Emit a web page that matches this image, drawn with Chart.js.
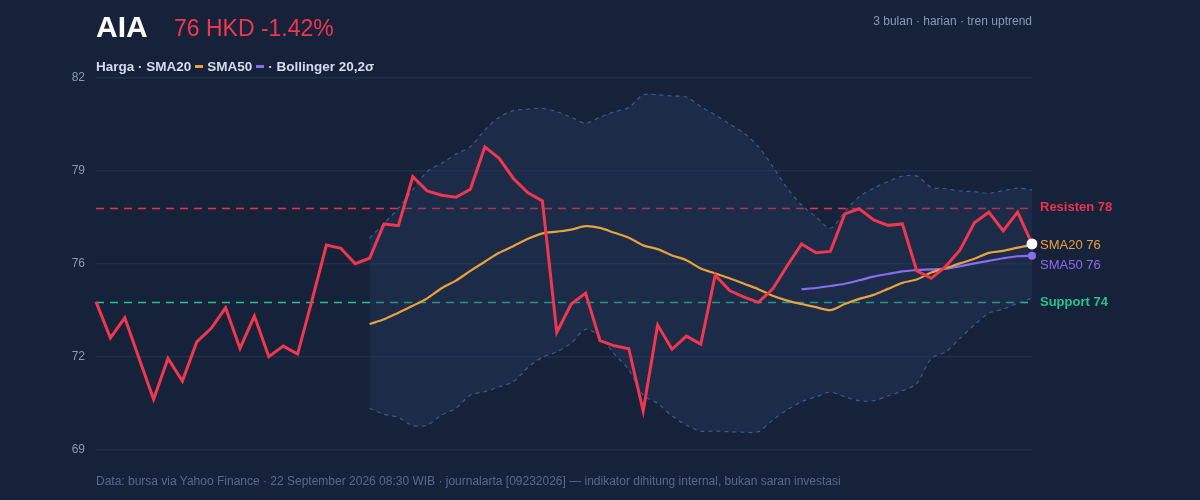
<!DOCTYPE html>
<html>
<head>
<meta charset="utf-8">
<script src="https://cdn.jsdelivr.net/npm/chart.js@4.4.1/dist/chart.umd.min.js"></script>
<style>
  html, body { margin: 0; padding: 0; background: #16223a; }
  body { width: 1200px; height: 500px; position: relative; overflow: hidden; font-family: "Liberation Sans", Arial, Helvetica, sans-serif; }
  #c { position: absolute; left: 0; top: 0; }
  .abs { position: absolute; white-space: nowrap; }
  #ttl { left: 96px; top: 10px; font-size: 30px; font-weight: bold; color: #ffffff; }
  #px { left: 174px; top: 15px; font-size: 23px; color: #f0374f; }
  #sub { right: 168px; top: 14px; font-size: 12px; color: #8a9ab4; }
  #leg { left: 96px; top: 59px; font-size: 13.5px; font-weight: bold; color: #d3ddec; }
  #leg .sw { display: inline-block; width: 8px; height: 3px; vertical-align: middle; margin: 0 4px 2px 4px; }
  #foot { left: 96px; top: 474px; font-size: 12px; color: #58698a; }
</style>
</head>
<body>
<canvas id="c" width="1200" height="500"></canvas>
<div class="abs" id="ttl">AIA</div>
<div class="abs" id="px">76 HKD -1.42%</div>
<div class="abs" id="sub">3 bulan · harian · tren uptrend</div>
<div class="abs" id="leg">Harga · SMA20<span class="sw" style="background:#e9a23b"></span>SMA50<span class="sw" style="background:#8b6cf0"></span>· Bollinger 20,2σ</div>
<div class="abs" id="foot">Data: bursa via Yahoo Finance · 22 September 2026 08:30 WIB · journalarta [09232026] — indikator dihitung internal, bukan saran investasi</div>
<script>
const categories = [
  "23/06","24/06","25/06","26/06","29/06","30/06",
  "01/07","02/07","03/07","06/07","07/07","08/07","09/07","10/07","13/07","14/07","15/07","16/07","17/07","20/07","21/07","22/07","23/07","24/07","27/07","28/07","29/07","30/07","31/07",
  "03/08","04/08","05/08","06/08","07/08","10/08","11/08","12/08","13/08","14/08","17/08","18/08","19/08","20/08","21/08","24/08","25/08","26/08","27/08","28/08","31/08",
  "01/09","02/09","03/09","04/09","07/09","08/09","09/09","10/09","11/09","14/09","15/09","16/09","17/09","18/09","21/09","22/09"
];

const price = [
  74.17, 72.91, 73.61, 72.18, 70.76, 72.19, 71.40, 72.77, 73.24, 73.96,
  72.54, 73.67, 72.25, 72.62, 72.34, 74.22, 76.15, 76.04, 75.50, 75.69,
  76.89, 76.83, 78.54, 78.04, 77.89, 77.82, 78.10, 79.58, 79.18, 78.47,
  77.98, 77.69, 73.10, 74.09, 74.47, 72.81, 72.63, 72.53, 70.35, 73.36,
  72.51, 72.97, 72.69, 75.10, 74.56, 74.33, 74.15, 74.62, 75.43, 76.19,
  75.88, 75.93, 77.24, 77.42, 77.03, 76.84, 76.89, 75.25, 74.99, 75.40,
  75.98, 76.93, 77.30, 76.65, 77.30, 76.19
];

const sma20 = [
  null, null, null, null, null, null, null, null, null, null,
  null, null, null, null, null, null, null, null, null, 73.39,
  73.56, 73.79, 74.03, 74.29, 74.64, 74.91, 75.25, 75.57, 75.88, 76.12,
  76.37, 76.56, 76.62, 76.69, 76.81, 76.75, 76.58, 76.41, 76.14, 76.01,
  75.79, 75.62, 75.33, 75.16, 74.99, 74.80, 74.61, 74.38, 74.21, 74.09,
  73.98, 73.88, 74.09, 74.27, 74.41, 74.62, 74.83, 74.95, 75.19, 75.34,
  75.51, 75.67, 75.88, 75.95, 76.06, 76.15
];

const sma50 = [
  null, null, null, null, null, null, null, null, null, null,
  null, null, null, null, null, null, null, null, null, null,
  null, null, null, null, null, null, null, null, null, null,
  null, null, null, null, null, null, null, null, null, null,
  null, null, null, null, null, null, null, null, null, 74.61,
  74.65, 74.72, 74.80, 74.92, 75.05, 75.14, 75.23, 75.28, 75.30, 75.33,
  75.41, 75.51, 75.60, 75.69, 75.76, 75.78
];

const bbUpper = [
  null, null, null, null, null, null, null, null, null, null,
  null, null, null, null, null, null, null, null, null, 76.39,
  76.91, 77.44, 78.08, 78.72, 79.01, 79.33, 79.59, 80.17, 80.62, 80.85,
  80.90, 80.93, 80.81, 80.62, 80.41, 80.62, 80.81, 80.96, 81.40, 81.40,
  81.36, 81.32, 80.99, 80.70, 80.38, 80.06, 79.59, 78.89, 78.14, 77.55,
  77.14, 76.74, 77.32, 77.84, 78.14, 78.37, 78.56, 78.56, 78.17, 78.12,
  78.04, 78.02, 77.96, 78.05, 78.14, 78.08
];

const bbLower = [
  null, null, null, null, null, null, null, null, null, null,
  null, null, null, null, null, null, null, null, null, 70.45,
  70.24, 70.13, 69.84, 69.86, 70.21, 70.45, 70.91, 71.03, 71.20, 71.38,
  71.88, 72.23, 72.42, 72.72, 73.21, 72.95, 72.34, 71.79, 70.91, 70.62,
  70.18, 69.86, 69.65, 69.65, 69.63, 69.61, 69.63, 70.04, 70.39, 70.68,
  70.85, 71.01, 70.85, 70.71, 70.71, 70.88, 71.06, 71.32, 72.19, 72.42,
  72.89, 73.36, 73.77, 73.91, 74.12, 74.29
];

const yTicks = [69, 72.25, 75.5, 78.75, 82];
const yMin = 69, yMax = 82;
const levelValues = [77.46, 74.16];
const levelLabels = ["Resisten 78", "Support 74"];
const maLabels = ["SMA20 76", "SMA50 76"];

const C = {
  price: "#f0374f", sma20: "#e9a23b", sma50: "#8b6cf0",
  res: "#e8334f", sup: "#22c38f", band: "#3d5b8a", bandFill: "rgba(40,62,104,0.32)",
  grid: "#222f48", tick: "#8a9ab4"
};
const FONT = '"Liberation Sans", Arial, Helvetica, sans-serif';
const last = price.length - 1;

const refLines = {
  id: "refLines",
  beforeDatasetsDraw(chart) {
    const { ctx, chartArea: a, scales: { y } } = chart;
    ctx.save();
    ctx.lineWidth = 1.5;
    ctx.setLineDash([8, 6]);
    [[levelValues[0], C.res], [levelValues[1], C.sup]].forEach(([v, col]) => {
      const yy = Math.round(y.getPixelForValue(v)) + 0.5;
      ctx.strokeStyle = col;
      ctx.beginPath(); ctx.moveTo(a.left, yy); ctx.lineTo(a.right, yy); ctx.stroke();
    });
    ctx.restore();
  },
  afterDatasetsDraw(chart) {
    const { ctx, chartArea: a, scales: { y } } = chart;
    const labels = [
      { v: levelValues[0], t: levelLabels[0], c: C.res, b: true },
      { v: sma20[last], t: maLabels[0], c: C.sma20, b: false },
      { v: sma50[last], t: maLabels[1], c: C.sma50, b: false },
      { v: levelValues[1], t: levelLabels[1], c: C.sup, b: true }
    ].map(o => ({ ...o, y: y.getPixelForValue(o.v) })).sort((p, q) => p.y - q.y);
    for (let i = 1; i < labels.length; i++) {
      if (labels[i].y - labels[i - 1].y < 20) labels[i].y = labels[i - 1].y + 20;
    }
    ctx.save();
    ctx.textBaseline = "middle";
    ctx.textAlign = "left";
    labels.forEach(l => {
      ctx.font = (l.b ? "bold " : "") + "13px " + FONT;
      ctx.fillStyle = l.c;
      ctx.fillText(l.t, a.right + 8, l.y);
    });
    ctx.restore();
  }
};

new Chart(document.getElementById("c"), {
  type: "line",
  data: {
    labels: categories,
    datasets: [
      { label: "BB upper", data: bbUpper, borderColor: C.band, borderWidth: 1.2, borderDash: [4, 4],
        pointRadius: 0, fill: { target: 1 }, backgroundColor: C.bandFill, tension: 0.3, order: 4 },
      { label: "BB lower", data: bbLower, borderColor: C.band, borderWidth: 1.2, borderDash: [4, 4],
        pointRadius: 0, fill: false, tension: 0.3, order: 3 },
      { label: "SMA50", data: sma50, borderColor: C.sma50, borderWidth: 2.2, tension: 0.3, fill: false,
        pointRadius: ctx => ctx.dataIndex === last ? 4 : 0, pointBackgroundColor: C.sma50, pointBorderWidth: 0, order: 2 },
      { label: "SMA20", data: sma20, borderColor: C.sma20, borderWidth: 2.2, tension: 0.3, fill: false,
        pointRadius: 0, order: 1 },
      { label: "Harga", data: price, borderColor: C.price, borderWidth: 3, tension: 0, fill: false,
        pointRadius: ctx => ctx.dataIndex === last ? 5.5 : 0, pointBackgroundColor: "#ffffff", pointBorderWidth: 0, order: 0 }
    ]
  },
  options: {
    responsive: false,
    animation: false,
    devicePixelRatio: 1,
    layout: { padding: { left: 0, right: 168, top: 77.7, bottom: 50.3 } },
    plugins: { legend: { display: false }, tooltip: { enabled: false } },
    scales: {
      x: { display: false },
      y: {
        min: yMin, max: yMax,
        afterBuildTicks: s => { s.ticks = yTicks.map(v => ({ value: v })); },
        afterFit: s => { s.width = 96; },
        grid: { color: C.grid, lineWidth: 1.5, drawTicks: false },
        border: { display: false },
        ticks: { color: C.tick, padding: 11, font: { family: FONT, size: 12 }, callback: v => Math.round(v) }
      }
    }
  },
  plugins: [refLines]
});
</script>
</body>
</html>
